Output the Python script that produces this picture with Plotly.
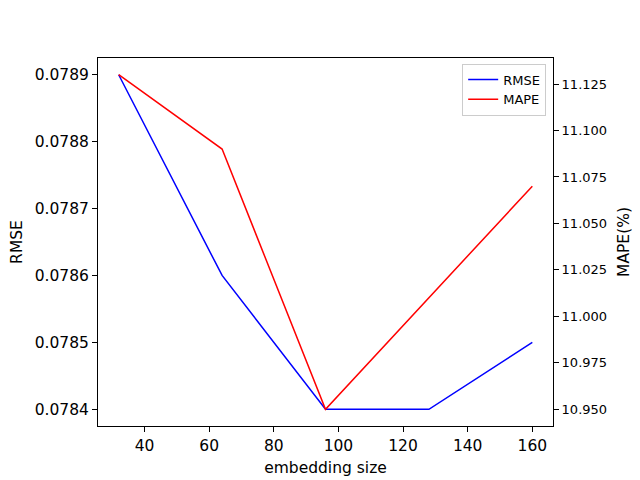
import plotly.graph_objects as go

embedding_size = [32, 64, 96, 128, 160]
rmse = [0.0789, 0.0786, 0.0784, 0.0784, 0.0785]
mape = [11.13, 11.09, 10.95, 11.01, 11.07]

left_ticks = [0.0784, 0.0785, 0.0786, 0.0787, 0.0788, 0.0789]
right_ticks = [10.950, 10.975, 11.000, 11.025, 11.050, 11.075, 11.100, 11.125]
x_ticks = [40, 60, 80, 100, 120, 140, 160]

fig = go.Figure()
fig.add_trace(go.Scatter(x=embedding_size, y=rmse, mode="lines", name="RMSE",
                         line=dict(color="blue", width=1.5), yaxis="y"))
fig.add_trace(go.Scatter(x=embedding_size, y=mape, mode="lines", name="MAPE",
                         line=dict(color="red", width=1.5), yaxis="y2"))

axis_common = dict(showline=True, linecolor="black", linewidth=1, ticks="outside",
                   ticklen=5, tickcolor="black", showgrid=False, zeroline=False,
                   automargin=False)

fig.update_layout(
    width=632, height=472,
    margin=dict(l=90, r=87, t=50, b=54),
    plot_bgcolor="white", paper_bgcolor="white",
    font=dict(family="DejaVu Sans", color="black"),
    showlegend=True,
    legend=dict(x=0.985, y=0.985, xanchor="right", yanchor="top",
                bgcolor="rgba(255,255,255,0.8)", bordercolor="#cccccc", borderwidth=1,
                font=dict(size=13)),
    xaxis=dict(range=[25.6, 166.4], tickvals=x_ticks, tickfont=dict(size=15.5),
               title=dict(text="embedding size", font=dict(size=15.5), standoff=8),
               mirror=True, **axis_common),
    yaxis=dict(range=[0.078375, 0.078925], tickvals=left_ticks, tickformat=".4f",
               tickfont=dict(size=15.5),
               title=dict(text="RMSE", font=dict(size=15.5), standoff=9),
               **axis_common),
    yaxis2=dict(range=[10.941, 11.139], tickvals=right_ticks, tickformat=".3f",
                tickfont=dict(size=13), overlaying="y", side="right",
                title=dict(text="MAPE(%)", font=dict(size=15.5), standoff=12),
                **axis_common),
)

fig.write_html("out.html")
